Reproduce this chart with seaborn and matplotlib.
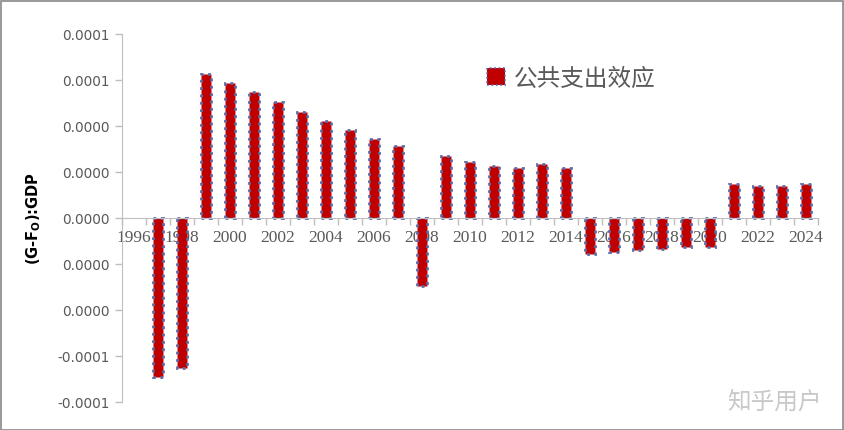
import matplotlib
matplotlib.use("Agg")
import matplotlib.pyplot as plt
from matplotlib.patches import Patch, Rectangle
import numpy as np
import pandas as pd
import seaborn as sns

# data
years = [str(y) for y in range(1996, 2025)]
effect = [
    np.nan, -6.9e-5, -6.5e-5, 6.26e-5, 5.86e-5, 5.47e-5, 5.03e-5, 4.6e-5,
    4.2e-5, 3.84e-5, 3.43e-5, 3.12e-5, -2.94e-5, 2.68e-5, 2.45e-5,
    2.28e-5, 2.16e-5, 2.33e-5, 2.16e-5, -1.57e-5, -1.48e-5, -1.38e-5,
    -1.35e-5, -1.27e-5, -1.26e-5, 1.48e-5, 1.4e-5, 1.38e-5, 1.48e-5,
]
ytick_vals = [8e-5, 6e-5, 4e-5, 2e-5, 0, -2e-5, -4e-5, -6e-5, -8e-5]
ytick_text = ["0.0001", "0.0001", "0.0000", "0.0000", "0.0000",
              "0.0000", "0.0000", "-0.0001", "-0.0001"]
series_name = "公共支出效应"

df = pd.DataFrame({"year": years, "effect": effect})

sns.set_style("white")
plt.rcParams["font.family"] = ["DejaVu Sans", "Noto Sans CJK SC"]

W, H = 845, 431
fig = plt.figure(figsize=(W / 100, H / 100), dpi=100)
ax = fig.add_axes([122 / W, 1 - 403 / H, (818 - 122) / W, (403 - 35) / H])

bar_red = "#C00000"
edge_blue = "#5A6AA8"
sns.barplot(data=df, x="year", y="effect", order=years, color=bar_red,
            saturation=1, width=0.42, edgecolor=edge_blue, linewidth=2,
            linestyle=":", errorbar=None, ax=ax)

ax.set_xlim(-0.5, len(years) - 0.5)
ax.set_ylim(-8e-5, 8e-5)

grey = "#595959"
axis_grey = "#BFBFBF"
ax.set_yticks(ytick_vals)
ax.set_yticklabels(ytick_text, color=grey, fontsize=9.8)
ax.tick_params(axis="y", length=5, width=1, color=axis_grey, pad=4, left=True)

# category labels every second year, tick marks between categories
ax.set_xticks(range(0, len(years), 2))
ax.set_xticklabels(years[::2])
ax.set_xticks(np.arange(-0.5, len(years), 1), minor=True)
ax.tick_params(axis="x", which="major", length=0, pad=8, labelsize=12.5,
               labelcolor=grey, labelfontfamily="Liberation Serif")
ax.tick_params(axis="x", which="minor", length=5, width=1, color=axis_grey,
               bottom=True)

for s in ["top", "right"]:
    ax.spines[s].set_visible(False)
ax.spines["left"].set_color(axis_grey)
ax.spines["bottom"].set_color(axis_grey)
ax.spines["bottom"].set_position(("data", 0))
ax.set_xlabel("")
ax.set_ylabel(r"(G-F$_\mathregular{O}$):GDP", fontsize=10.5,
              fontweight="bold", color="#000000", labelpad=10)

handle = Patch(facecolor=bar_red, edgecolor=edge_blue, linestyle=":",
               linewidth=1.2)
leg = ax.legend([handle], [series_name], loc="center left",
                bbox_to_anchor=((478 - 122) / (818 - 122), (403 - 79) / 368),
                frameon=False, handlelength=0.75, handleheight=0.75,
                handletextpad=0.35, borderaxespad=0,
                prop={"family": ["Noto Sans CJK SC"], "size": 17})
for t in leg.get_texts():
    t.set_color(grey)

fig.text(822 / W, 1 - 402 / H, "知乎用户", family=["Noto Sans CJK SC"],
         fontsize=17, color="#C8C8C8", ha="right", va="center")

fig.patches.append(Rectangle((0.5 / W, 0.5 / H), (W - 2) / W, (H - 2) / H,
                             transform=fig.transFigure, fill=False,
                             edgecolor="#888888", linewidth=1.2))

fig.savefig("out.png", dpi=100)
